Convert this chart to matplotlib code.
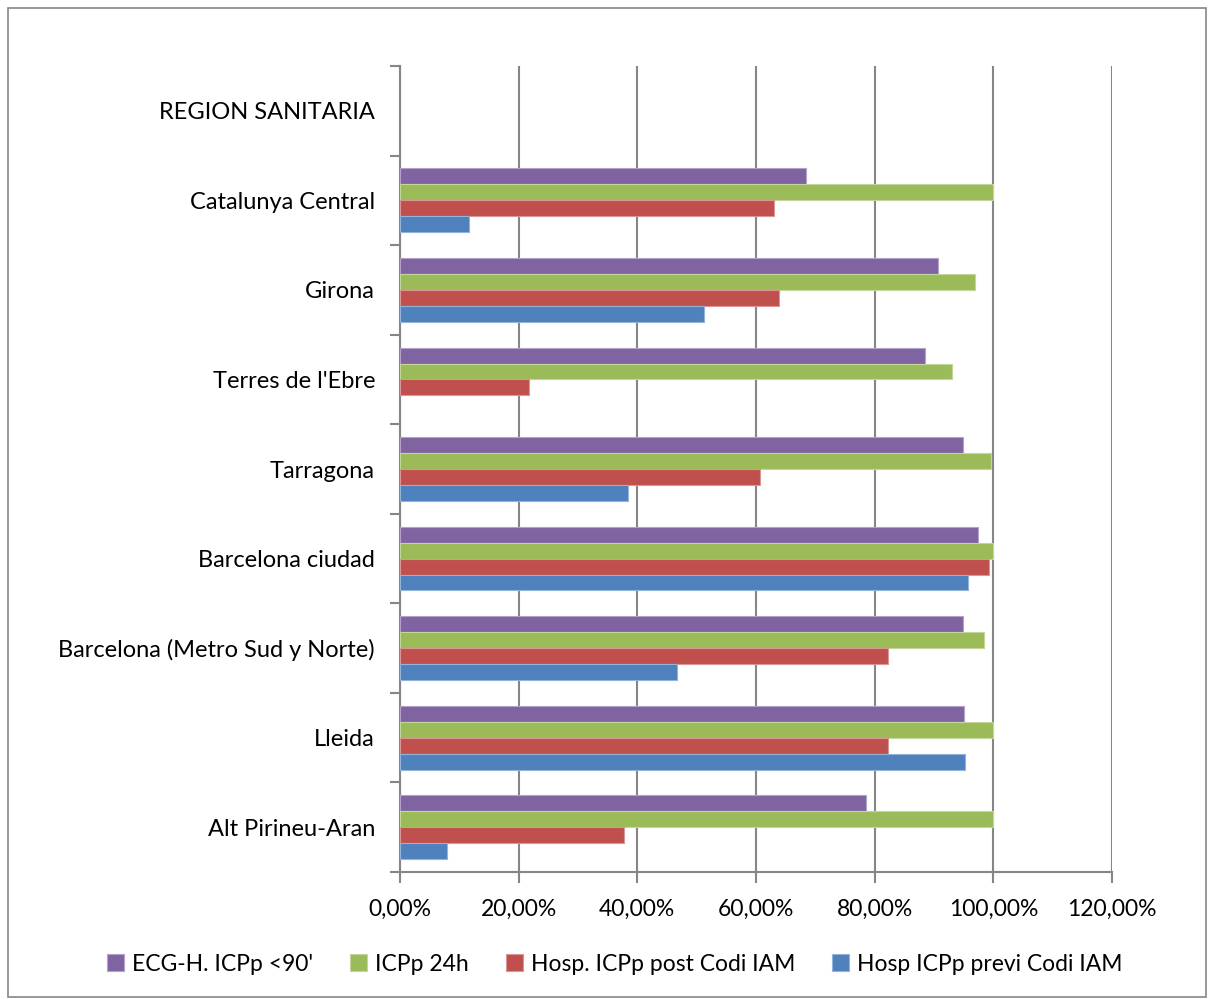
import matplotlib.pyplot as plt
import numpy as np
from matplotlib.patches import Rectangle
from matplotlib.ticker import FixedLocator, FuncFormatter

plt.rcParams['font.family'] = ['Lato', 'DejaVu Sans']

# Regions listed bottom to top
regions = ["Alt Pirineu-Aran", "Lleida", "Barcelona (Metro Sud y Norte)",
           "Barcelona ciudad", "Tarragona", "Terres de l'Ebre", "Girona",
           "Catalunya Central", "REGION SANITARIA"]

ecg_90 = [78.6, 95.1, 94.9, 97.4, 94.9, 88.5, 90.7, 68.5, np.nan]
icpp_24h = [100.0, 100.0, 98.5, 100.0, 99.6, 93.0, 96.9, 100.0, np.nan]
hosp_post = [37.7, 82.3, 82.2, 99.2, 60.6, 21.7, 63.9, 63.0, np.nan]
hosp_previ = [7.9, 95.2, 46.6, 95.8, 38.4, np.nan, 51.2, 11.7, np.nan]

series = [
    ("ECG-H. ICPp <90'", ecg_90, "#8064A2"),
    ("ICPp 24h", icpp_24h, "#9BBB59"),
    ("Hosp. ICPp post Codi IAM", hosp_post, "#C0504D"),
    ("Hosp ICPp previ Codi IAM", hosp_previ, "#4F81BD"),
]
edge_colors = ["#B3A2C7", "#C3D69B", "#D99694", "#95B3D7"]

fig = plt.figure(figsize=(12.1, 9.99), dpi=100)
fig.patches.append(Rectangle((0.007, 0.002), 0.990, 0.990, transform=fig.transFigure,
                             fill=False, edgecolor="#868686", linewidth=1.2))
ax = fig.add_axes([0.3306, 0.1271, 0.5884, 0.8068])

y = np.arange(len(regions))
h = 0.178
offsets = [1.5, 0.5, -0.5, -1.5]
for (label, vals, color), off, ec in zip(series, offsets, edge_colors):
    ax.barh(y + off * h, vals, height=h, color=color, edgecolor=ec,
            linewidth=0.8, label=label, zorder=3)

ax.set_xlim(0, 120)
ax.set_ylim(-0.5, len(regions) - 0.5)
ax.set_xticks(np.arange(0, 121, 20))
ax.xaxis.set_major_formatter(FuncFormatter(lambda v, p: f"{v:.2f}%".replace(".", ",")))
ax.grid(axis="x", color="#868686", linewidth=1.5, zorder=0)

ax.set_yticks(y)
ax.set_yticklabels(regions)
ax.yaxis.set_minor_locator(FixedLocator(np.arange(-0.5, len(regions), 1.0)))
ax.tick_params(axis="y", which="major", length=0, pad=18, labelsize=17)
ax.tick_params(axis="y", which="minor", length=7, width=1.5, color="#868686")
ax.tick_params(axis="x", length=8, width=1.5, color="#868686", pad=11, labelsize=16.5)

for side in ["top", "right"]:
    ax.spines[side].set_visible(False)
for side in ["left", "bottom"]:
    ax.spines[side].set_color("#868686")
    ax.spines[side].set_linewidth(1.5)

handles, labels = ax.get_legend_handles_labels()
leg = fig.legend(handles, labels, loc="center", bbox_to_anchor=(0.508, 0.035), ncol=4,
                 frameon=False, fontsize=16.5, handlelength=0.75, handleheight=0.8,
                 handletextpad=0.35, columnspacing=1.6)

fig.savefig("out.png", dpi=100)
